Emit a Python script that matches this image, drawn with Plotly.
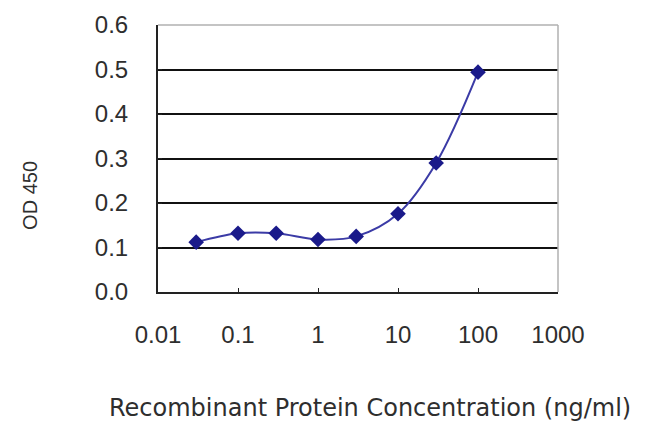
import plotly.graph_objects as go

concentration = [0.03, 0.1, 0.3, 1, 3, 10, 30, 100]
od450 = [0.112, 0.132, 0.132, 0.118, 0.125, 0.176, 0.29, 0.494]
x_tick_vals = [0.01, 0.1, 1, 10, 100, 1000]
x_tick_text = ["0.01", "0.1", "1", "10", "100", "1000"]
y_tick_vals = [0.0, 0.1, 0.2, 0.3, 0.4, 0.5, 0.6]
y_tick_text = ["0.0", "0.1", "0.2", "0.3", "0.4", "0.5", "0.6"]

TICKFONT = "Liberation Sans, Arial, sans-serif"
TITLEFONT = "DejaVu Sans, Arial, sans-serif"
TXT = "#2e2e2e"

fig = go.Figure()
fig.add_trace(go.Scatter(
    x=concentration, y=od450, mode="lines+markers",
    line=dict(color="#3b3ba6", width=2, shape="spline", smoothing=1.0),
    marker=dict(symbol="diamond", size=12, color="#1a1a8a"),
    showlegend=False, hoverinfo="skip"))

fig.update_xaxes(
    type="log", range=[-2, 3], tickvals=x_tick_vals, ticktext=x_tick_text,
    showgrid=False, showline=True, linecolor="#222", linewidth=2,
    ticks="inside", ticklen=4, tickcolor="#222", ticklabelstandoff=20,
    tickfont=dict(family=TICKFONT, size=24, color=TXT),
    mirror=False, zeroline=False)
fig.update_yaxes(
    range=[0, 0.6], tickvals=y_tick_vals, ticktext=y_tick_text,
    showgrid=True, gridcolor="#111", gridwidth=2,
    showline=True, linecolor="#222", linewidth=2,
    ticks="inside", ticklen=4, tickcolor="#222", ticklabelstandoff=23,
    tickfont=dict(family=TICKFONT, size=24, color=TXT), zeroline=False)

# light outer border on top/right
fig.add_shape(type="line", xref="paper", yref="paper", x0=0, x1=1, y0=1, y1=1,
              line=dict(color="#b0b0b0", width=1.5))
fig.add_shape(type="line", xref="paper", yref="paper", x0=1, x1=1, y0=0, y1=1,
              line=dict(color="#b0b0b0", width=1.5))

fig.add_annotation(text="Recombinant Protein Concentration (ng/ml)",
                   xref="paper", yref="paper", x=0.53, y=-0.435,
                   xanchor="center", yanchor="middle", showarrow=False,
                   font=dict(family=TITLEFONT, size=24, color=TXT))
fig.add_annotation(text="OD 450", xref="paper", yref="paper",
                   x=-0.32, y=0.36, textangle=-90,
                   xanchor="center", yanchor="middle", showarrow=False,
                   font=dict(family=TICKFONT, size=20, color=TXT))

fig.update_layout(
    width=650, height=434,
    margin=dict(l=158, r=92, t=25, b=142),
    plot_bgcolor="white", paper_bgcolor="white")

fig.write_html("out.html", config={"displayModeBar": False},
               post_script="document.body.style.margin='0';document.body.style.overflow='hidden';")
